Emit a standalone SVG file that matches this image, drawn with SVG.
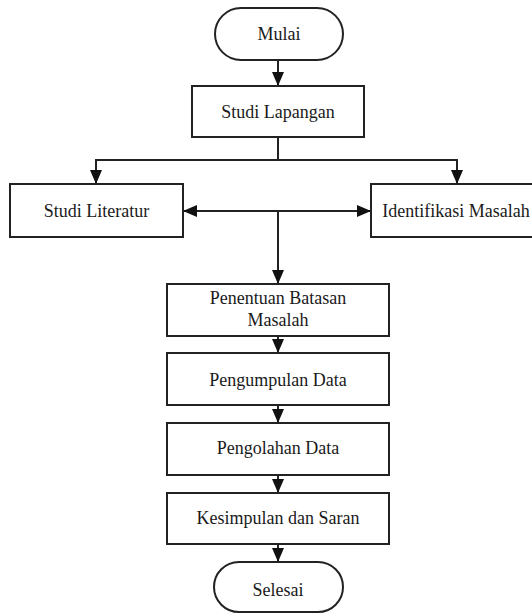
<svg xmlns="http://www.w3.org/2000/svg" width="532" height="613" viewBox="0 0 532 613">
<style>
.box{fill:#fff;stroke:#222;stroke-width:2}
.t{font-family:"Liberation Serif","Times New Roman",serif;font-size:18px;fill:#1a1a1a;text-anchor:middle}
.ln{fill:none;stroke:#222;stroke-width:2}
</style>
<defs>
<marker id="ah" viewBox="0 0 14 12" refX="14" refY="6" markerWidth="14" markerHeight="12" markerUnits="userSpaceOnUse" orient="auto-start-reverse">
<path d="M0,0 L14,6 L0,12 Z" fill="#111"/>
</marker>
</defs>
<rect width="532" height="613" fill="#fff"/>
<g id="connectors">
<path class="ln" d="M278,60 V86" marker-end="url(#ah)"/>
<path class="ln" d="M278,137 V160"/>
<path class="ln" d="M96,184 V160 H457 V184" marker-start="url(#ah)" marker-end="url(#ah)"/>
<path class="ln" d="M183,211 H371" marker-start="url(#ah)" marker-end="url(#ah)"/>
<path class="ln" d="M278,211 V284" marker-end="url(#ah)"/>
<path class="ln" d="M278,336 V353" marker-end="url(#ah)"/>
<path class="ln" d="M278,405 V423" marker-end="url(#ah)"/>
<path class="ln" d="M278,475 V493" marker-end="url(#ah)"/>
<path class="ln" d="M278,544 V562" marker-end="url(#ah)"/>
</g>
<g id="mulai">
<rect class="box" x="215" y="8" width="128" height="52" rx="26" ry="26"/>
<text class="t" x="279" y="40">Mulai</text>
</g>
<g id="studi-lapangan">
<rect class="box" x="192" y="86" width="172" height="51"/>
<text class="t" x="278" y="118">Studi Lapangan</text>
</g>
<g id="studi-literatur">
<rect class="box" x="10" y="184" width="173" height="53"/>
<text class="t" x="96.5" y="217">Studi Literatur</text>
</g>
<g id="identifikasi-masalah">
<rect class="box" x="371" y="184" width="170" height="53"/>
<text class="t" x="456" y="217">Identifikasi Masalah</text>
</g>
<g id="penentuan-batasan-masalah">
<rect class="box" x="167" y="284" width="222" height="52"/>
<text class="t" x="278" y="304">Penentuan Batasan</text>
<text class="t" x="278" y="326">Masalah</text>
</g>
<g id="pengumpulan-data">
<rect class="box" x="167" y="353" width="222" height="52"/>
<text class="t" x="278" y="386">Pengumpulan Data</text>
</g>
<g id="pengolahan-data">
<rect class="box" x="167" y="423" width="222" height="52"/>
<text class="t" x="278" y="454">Pengolahan Data</text>
</g>
<g id="kesimpulan-dan-saran">
<rect class="box" x="167" y="493" width="222" height="51"/>
<text class="t" x="278" y="524">Kesimpulan dan Saran</text>
</g>
<g id="selesai">
<rect class="box" x="214" y="562" width="129" height="50" rx="25" ry="25"/>
<text class="t" x="278" y="596">Selesai</text>
</g>
</svg>
